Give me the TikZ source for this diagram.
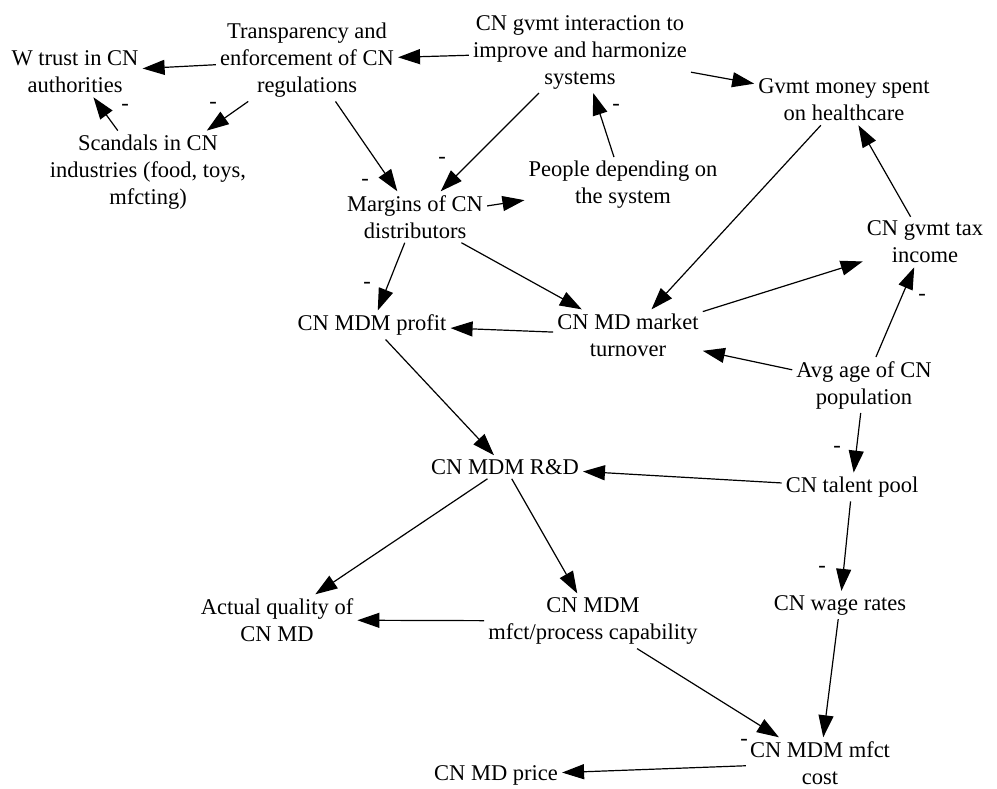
\documentclass[tikz,border=0pt]{standalone}
\usepackage{fontspec}
\setmainfont{Liberation Serif}
\usetikzlibrary{arrows.meta}

\tikzset{
	var/.style={align=center, inner sep=4pt, font=\fontsize{22.5}{27}\selectfont},
	neg/.style={inner sep=0pt, font=\fontsize{22.5}{27}\selectfont},
	link/.style={line width=1.2pt, -{Triangle[length=22pt, width=15pt]}}
}

\begin{document}
\begin{tikzpicture}[x=1pt, y=-1pt]
	
	\useasboundingbox (0,0) rectangle (997,788);
	
	% top row
	\node [var] at (75,72) (trust) {W trust in CN\\authorities};
	\node [var] at (307,60) (transp) {Transparency and\\enforcement of CN\\regulations};
	\node [var] at (580,52) (gvmt) {CN gvmt interaction to\\improve and harmonize\\systems};
	\node [var] at (844,100) (money) {Gvmt money spent\\on healthcare};
	
	% second row
	\node [var] at (148,172) (scandals) {Scandals in CN\\industries (food, toys,\\mfcting)};
	\node [var] at (415,217) (margins) {Margins of CN\\distributors};
	\node [var] at (623,185) (people) {People depending on\\the system};
	\node [var] at (925,242) (tax) {CN gvmt tax\\income};
	
	% market
	\node [var] at (372,325) (profit) {CN MDM profit};
	\node [var] at (628,335) (turnover) {CN MD market\\turnover};
	\node [var] at (864,385) (age) {Avg age of CN\\population};
	
	% R&D / talent
	\node [var] at (505,467) (rnd) {CN MDM R\&D};
	\node [var] at (852,487) (talent) {CN talent pool};
	
	% bottom
	\node [var] at (277,620) (quality) {Actual quality of\\CN MD};
	\node [var] at (593,621) (capab) {CN MDM\\mfct/process capability};
	\node [var] at (840,605) (wage) {CN wage rates};
	\node [var] at (820,763) (cost) {CN MDM mfct\\cost};
	\node [var] at (496,775) (price) {CN MD price};
	
	% links
	\draw [link] (transp) -- (trust);
	\draw [link] (scandals) -- (trust);
	\draw [link] (transp) -- (scandals);
	\draw [link] (transp) -- (margins);
	\draw [link] (gvmt) -- (transp);
	\draw [link] (gvmt) -- (money);
	\draw [link] (gvmt) -- (margins);
	\draw [link] (people) -- (gvmt);
	\draw [link] (margins) -- (people);
	\draw [link] (margins) -- (profit);
	\draw [link] (margins) -- (turnover);
	\draw [link] (money) -- (turnover);
	\draw [link] (turnover) -- (profit);
	\draw [link] (turnover) -- (tax);
	\draw [link] (tax) -- (money);
	\draw [link] (age) -- (tax);
	\draw [link] (age) -- (turnover);
	\draw [link] (age) -- (talent);
	\draw [link] (profit) -- (rnd);
	\draw [link] (talent) -- (rnd);
	\draw [link] (rnd) -- (quality);
	\draw [link] (rnd) -- (capab);
	\draw [link] (capab) -- (quality);
	\draw [link] (talent) -- (wage);
	\draw [link] (capab) -- (cost);
	\draw [link] (wage) -- (cost);
	\draw [link] (cost) -- (price);
	
	% negative polarities
	\node [neg] at (125,107) (n1) {-};
	\node [neg] at (213,105) (n2) {-};
	\node [neg] at (365,182) (n3) {-};
	\node [neg] at (442,160) (n4) {-};
	\node [neg] at (616,107) (n5) {-};
	\node [neg] at (367,285) (n6) {-};
	\node [neg] at (922,297) (n7) {-};
	\node [neg] at (837,449) (n8) {-};
	\node [neg] at (822,569) (n9) {-};
	\node [neg] at (744,742) (n10) {-};
	
\end{tikzpicture}
\end{document}
